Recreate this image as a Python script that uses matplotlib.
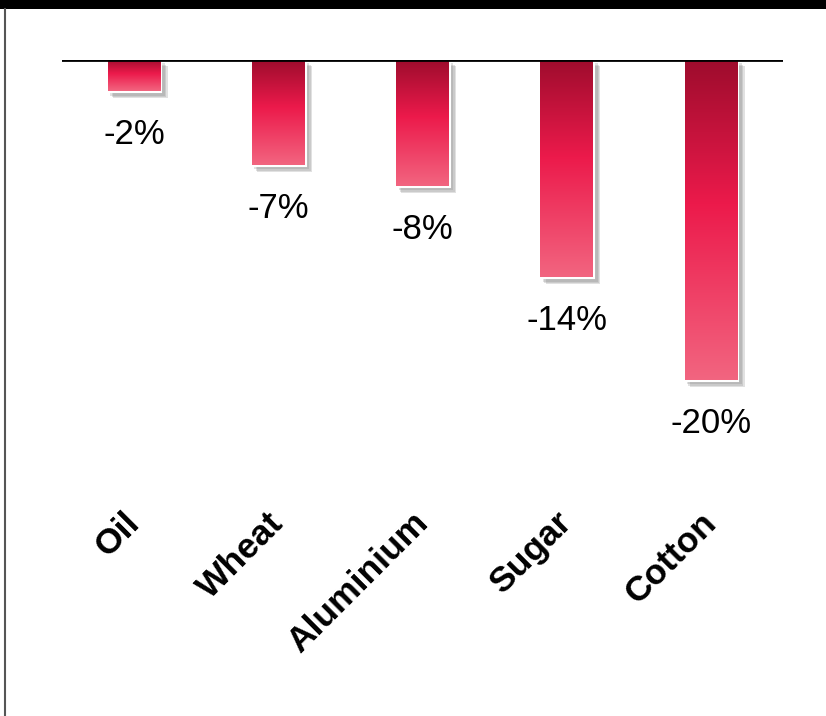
import matplotlib
matplotlib.use("Agg")
import matplotlib.pyplot as plt
import numpy as np
from matplotlib.colors import LinearSegmentedColormap
from matplotlib import patheffects as pe
from matplotlib.lines import Line2D
from matplotlib.patches import Rectangle

# data
categories = ["Oil", "Wheat", "Aluminium", "Sugar", "Cotton"]
values = [-2.0, -6.6, -7.9, -13.6, -20.0]
value_labels = ["-2%", "-7%", "-8%", "-14%", "-20%"]

fig = plt.figure(figsize=(8.26, 7.16), dpi=100)
fig.patch.set_facecolor("white")

# black band at the top and grey left border
fig.patches.append(Rectangle((0, 1 - 9 / 716), 1, 9 / 716, transform=fig.transFigure,
                             facecolor="black", edgecolor="none"))
fig.lines.append(Line2D([4.5 / 826, 4.5 / 826], [0, 1 - 9 / 716], transform=fig.transFigure,
                        color="#555555", lw=1.5))

ax = fig.add_axes([62 / 826, 1 - 501 / 716, 721 / 826, 441 / 716])
ax.set_xlim(-0.5, 4.5)
ax.set_ylim(-27.5, 0)
for s in ax.spines.values():
    s.set_visible(False)
ax.set_yticks([])
ax.axhline(0, color="black", lw=2, zorder=5)

cmap = LinearSegmentedColormap.from_list(
    "redgrad", [(0, "#9e0c2d"), (0.45, "#ec1a4b"), (1, "#f26580")])
grad = np.linspace(0, 1, 256).reshape(-1, 1)

# soft shadow: a few offset copies with low alpha
shadow = [pe.SimplePatchShadow(offset=(o, -o), shadow_rgbFace="#7a7a7a", alpha=0.22)
          for o in (4.5, 3.5, 2.5)]

x = np.arange(len(categories))
width = 0.38
bars = ax.bar(x, values, width=width, color="white", edgecolor="white", lw=1.5, zorder=2,
              path_effects=shadow + [pe.Normal()])

for b, v, lab in zip(bars, values, value_labels):
    x0 = b.get_x()
    im = ax.imshow(grad, cmap=cmap, aspect="auto", zorder=3,
                   extent=(x0 + 0.008, x0 + b.get_width() - 0.008, v + 0.06, 0))
    im.set_clip_path(b)
    ax.annotate(lab, (b.get_x() + b.get_width() / 2, v), xytext=(0, -19),
                textcoords="offset points", ha="center", va="top",
                fontsize=25, family="Liberation Sans", color="black", annotation_clip=False)

ax.set_xticks(x)
ax.set_xticklabels(categories, rotation=45, ha="right", va="center", rotation_mode="anchor",
                   fontsize=25.5, fontweight="bold", family="Liberation Sans")
ax.tick_params(axis="x", length=0, pad=12)

fig.savefig("out.png", dpi=100, facecolor="white")
